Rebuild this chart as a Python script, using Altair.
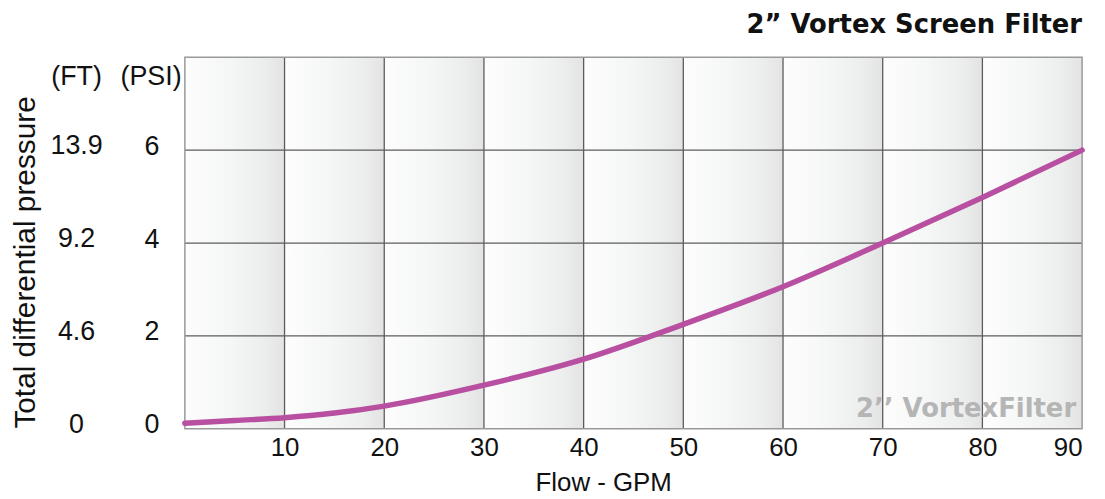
import altair as alt
import pandas as pd

# ---- data ----
gpm = [0, 5, 10, 15, 20, 30, 40, 50, 60, 70, 80, 90]
psi = [0.12, 0.18, 0.24, 0.34, 0.49, 0.94, 1.5, 2.25, 3.06, 4.0, 4.98, 6.0]

x_ticks = [10, 20, 30, 40, 50, 60, 70, 80, 90]
psi_ticks = [0, 2, 4, 6]
ft_labels = ["0", "4.6", "9.2", "13.9"]
headers = ["(FT)", "(PSI)"]

title_text = "2\u201d Vortex Screen Filter"
watermark_text = "2\u2019\u2019 VortexFilter"
x_title = "Flow - GPM"
y_title = "Total differential pressure"

W, H = 903, 374
FONT = "Liberation Sans"
INK = "#111111"

curve = pd.DataFrame({"gpm": gpm, "psi": psi})
bands = pd.DataFrame({"x0": [0] + x_ticks[:-1], "x1": x_ticks})
vgrid = pd.DataFrame({"g": x_ticks[:-1]})
hgrid = pd.DataFrame({"p": [v for v in psi_ticks if v > 0]})
ft_df = pd.DataFrame({"psi": psi_ticks, "ft": ft_labels})
hdr_df = pd.DataFrame({"label": headers, "px": [-109, -34]})
frame_df = pd.DataFrame({"a": [0], "b": [90], "lo": [0], "hi": [8]})

xscale = alt.Scale(domain=[0, 90], nice=False, zero=False)
yscale = alt.Scale(domain=[0, 8], nice=False)

grad = alt.Gradient(
    gradient="linear",
    stops=[
        alt.GradientStop(color="#fdfdfd", offset=0),
        alt.GradientStop(color="#f5f6f6", offset=0.45),
        alt.GradientStop(color="#eceded", offset=0.8),
        alt.GradientStop(color="#e3e3e3", offset=1),
    ],
    x1=0, x2=1, y1=0, y2=0,
)

x_axis = alt.Axis(values=x_ticks, grid=False, domain=False, ticks=False,
                  labelFontSize=26, labelFont=FONT, labelColor=INK, labelPadding=6,
                  title=x_title, titleFont=FONT, titleFontSize=26,
                  titleFontWeight="normal", titleColor=INK,
                  titleX=421, titleY=62, titleBaseline="alphabetic",
                  titleAlign="center")
y_axis = alt.Axis(values=psi_ticks, grid=False, domain=False, ticks=False,
                  labelFontSize=27, labelFont=FONT, labelColor=INK, labelPadding=26,
                  labelOffset=-4,
                  title=y_title, titleFont=FONT, titleFontSize=30,
                  titleFontWeight="normal", titleColor=INK,
                  titleX=-160, titleY=206, titleAngle=-90,
                  titleAlign="center", titleBaseline="middle")

band_layer = alt.Chart(bands).mark_rect(fill=grad, strokeWidth=0).transform_calculate(
    psi_lo="0", psi_hi="8"
).encode(
    x=alt.X("x0:Q", scale=xscale, axis=x_axis),
    x2="x1:Q",
    y=alt.Y("psi_lo:Q", scale=yscale, axis=y_axis),
    y2="psi_hi:Q",
)

vgrid_layer = alt.Chart(vgrid).mark_rule(color="#5c5c5c", strokeWidth=1.3).encode(
    x=alt.X("g:Q", scale=xscale),
)
hgrid_layer = alt.Chart(hgrid).mark_rule(color="#5c5c5c", strokeWidth=1.3).encode(
    y=alt.Y("p:Q", scale=yscale),
)
frame_layer = alt.Chart(frame_df).mark_rect(
    filled=False, stroke="#9a9a9a", strokeWidth=1.5
).encode(
    x=alt.X("a:Q", scale=xscale), x2="b:Q",
    y=alt.Y("lo:Q", scale=yscale), y2="hi:Q",
)

line_layer = alt.Chart(curve).mark_line(
    color="#b84fa0", strokeWidth=5.5, interpolate="monotone", strokeCap="round"
).encode(
    x=alt.X("gpm:Q", scale=xscale),
    y=alt.Y("psi:Q", scale=yscale),
)

ft_layer = alt.Chart(ft_df).mark_text(
    font=FONT, fontSize=27, color=INK, align="center", baseline="middle", dy=-4
).encode(
    x=alt.value(-109),
    y=alt.Y("psi:Q", scale=yscale),
    text="ft:N",
)

hdr_layer = alt.Chart(hdr_df).mark_text(
    font=FONT, fontSize=27, color=INK, align="center", baseline="middle"
).encode(
    x=alt.X("px:Q", scale=None),
    y=alt.value(20),
    text="label:N",
)

title_layer = alt.Chart(pd.DataFrame({"t": [title_text]})).mark_text(
    font="DejaVu Sans", fontSize=26, fontWeight="bold", color=INK,
    align="right", baseline="alphabetic"
).encode(x=alt.value(903), y=alt.value(-24), text="t:N")

wm_layer = alt.Chart(pd.DataFrame({"t": [watermark_text]})).mark_text(
    font="DejaVu Sans", fontSize=26, fontWeight="bold", color="#b5b5b5",
    align="right", baseline="alphabetic"
).encode(x=alt.value(897), y=alt.value(362), text="t:N")

chart = alt.layer(
    band_layer, vgrid_layer, hgrid_layer, frame_layer, wm_layer, line_layer,
    ft_layer, hdr_layer, title_layer
).properties(
    width=W, height=H,
    autosize=alt.AutoSizeParams(type="none"),
    padding={"left": 178, "top": 48, "right": 15, "bottom": 66},
).configure_view(stroke=None)

chart.save("out.html", embed_options={"renderer": "svg", "actions": False})
